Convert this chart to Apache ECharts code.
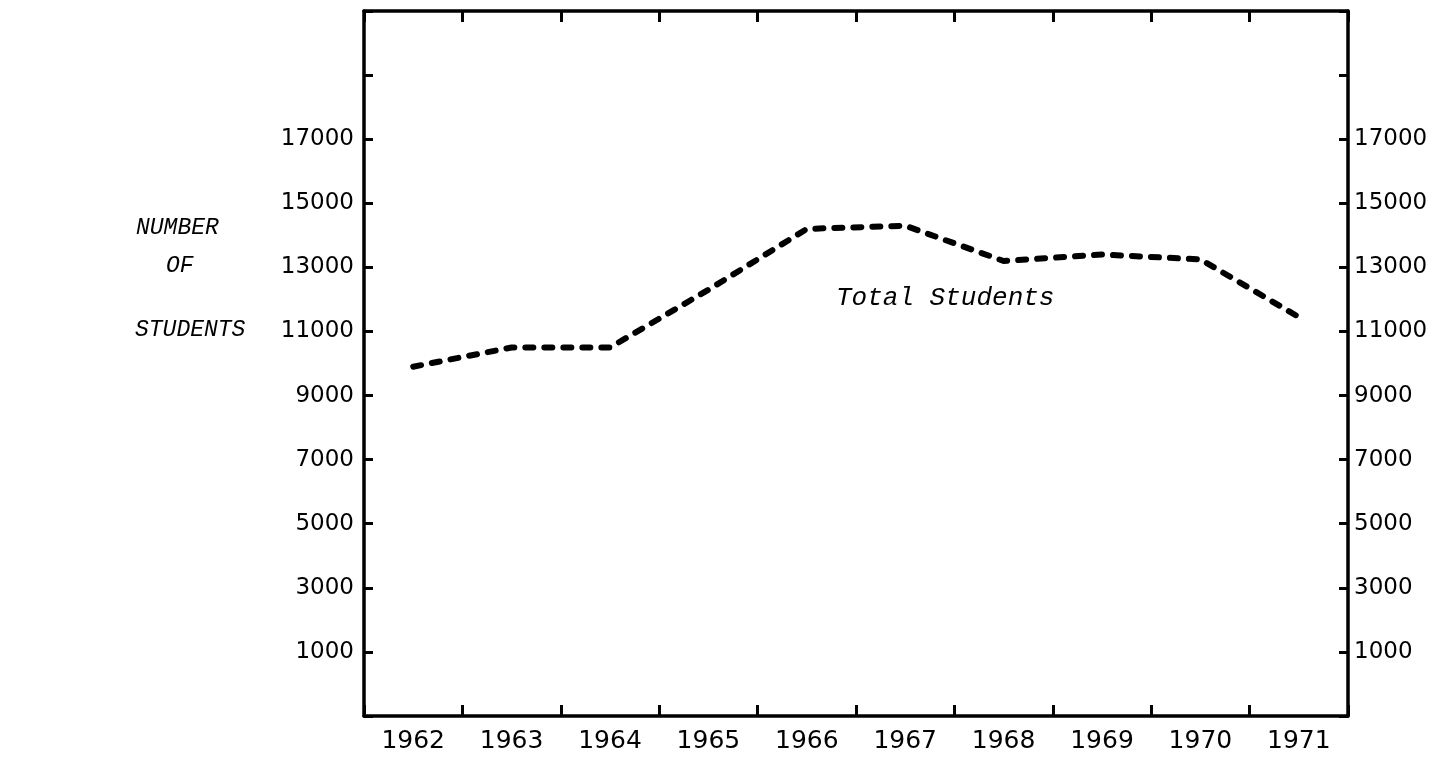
<!DOCTYPE html>
<html>
<head>
<meta charset="utf-8">
<script src="https://cdn.jsdelivr.net/npm/echarts@6/dist/echarts.min.js"></script>
<style>
html,body{margin:0;padding:0;background:#fff;}
#chart{width:1447px;height:757px;}
</style>
</head>
<body>
<div id="chart"></div>
<script>
// Data
const years = ['1962','1963','1964','1965','1966','1967','1968','1969','1970','1971'];
const totalStudents = [9900, 10500, 10500, 12300, 14200, 14300, 13200, 13400, 13250, 11450];
const yTickLabels = [1000, 3000, 5000, 7000, 9000, 11000, 13000, 15000, 17000];
const yLabelLines = ['NUMBER', 'OF', 'STUDENTS'];
const seriesLabel = 'Total Students';

const Y_MIN = -1000, Y_MAX = 21000, Y_STEP = 2000;
const ink = '#000';
const numFont = 'DejaVu Sans';
const monoFont = 'Liberation Mono';

function yFormatter(v) {
  return yTickLabels.indexOf(v) >= 0 ? String(v) : '';
}

const chart = echarts.init(document.getElementById('chart'));
const axisLine = { show: true, onZero: false, lineStyle: { color: ink, width: 3.5 } };

chart.setOption({
  animation: false,
  backgroundColor: '#fff',
  grid: { left: 364, right: 99, top: 11, bottom: 41, containLabel: false },
  xAxis: [
    {
      type: 'category', data: years, position: 'bottom', boundaryGap: true,
      axisLine: axisLine,
      axisTick: { show: true, inside: true, length: 11, lineStyle: { color: ink, width: 3 } },
      axisLabel: { color: ink, fontFamily: numFont, fontSize: 25, margin: 13 },
      splitLine: { show: false }
    },
    {
      type: 'category', data: years, position: 'top', boundaryGap: true,
      axisLine: axisLine,
      axisTick: { show: true, inside: true, length: 11, lineStyle: { color: ink, width: 3 } },
      axisLabel: { show: false },
      splitLine: { show: false }
    }
  ],
  yAxis: [
    {
      type: 'value', position: 'left', min: Y_MIN, max: Y_MAX, interval: Y_STEP,
      axisLine: axisLine,
      axisTick: { show: true, inside: true, length: 9, lineStyle: { color: ink, width: 3 } },
      axisLabel: { color: ink, fontFamily: numFont, fontSize: 23, margin: 10, formatter: yFormatter },
      splitLine: { show: false }
    },
    {
      type: 'value', position: 'right', min: Y_MIN, max: Y_MAX, interval: Y_STEP,
      axisLine: axisLine,
      axisTick: { show: true, inside: true, length: 9, lineStyle: { color: ink, width: 3 } },
      axisLabel: { color: ink, fontFamily: numFont, fontSize: 23, margin: 6, formatter: yFormatter },
      splitLine: { show: false }
    }
  ],
  series: [
    {
      name: seriesLabel,
      type: 'line',
      data: totalStudents,
      xAxisIndex: 0, yAxisIndex: 0,
      symbol: 'none',
      lineStyle: { color: ink, width: 6, type: [8, 11], cap: 'round', join: 'round' }
    }
  ],
  graphic: [
    { type: 'text', left: 836, top: 285,
      style: { text: seriesLabel, fill: ink, font: 'italic 26px "' + monoFont + '"' } },
    { type: 'text', left: 136, top: 216,
      style: { text: yLabelLines[0], fill: ink, font: 'italic 23px "' + monoFont + '"' } },
    { type: 'text', left: 166, top: 254,
      style: { text: yLabelLines[1], fill: ink, font: 'italic 23px "' + monoFont + '"' } },
    { type: 'text', left: 135, top: 318,
      style: { text: yLabelLines[2], fill: ink, font: 'italic 23px "' + monoFont + '"' } }
  ]
});
</script>
</body>
</html>
